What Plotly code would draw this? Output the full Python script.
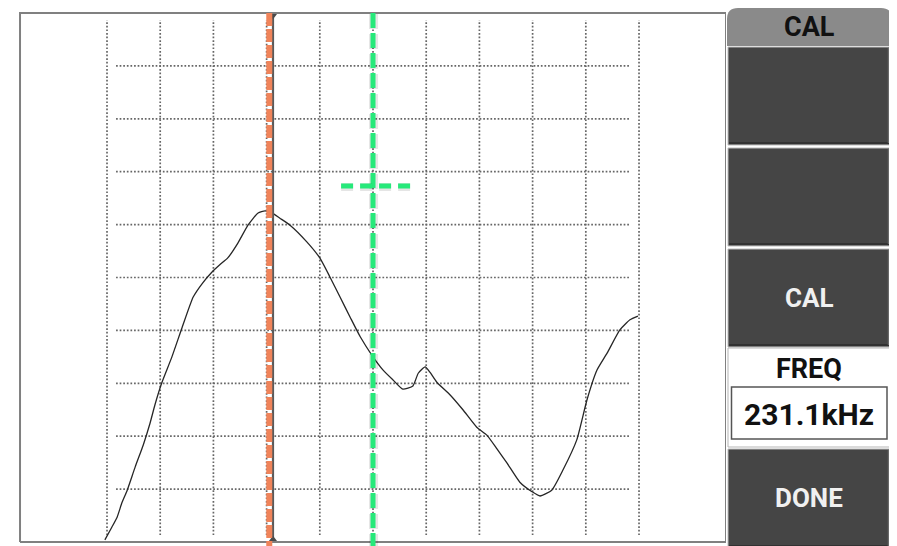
import plotly.graph_objects as go

# ---- data (grid units: 10 x 10 divisions) ----
curve_x = [-0.04, 0.09, 0.19, 0.28, 0.38, 0.53, 0.68, 0.81, 0.90, 1.03, 1.22, 1.41, 1.62, 1.80, 1.97,
           2.12, 2.27, 2.46, 2.65, 2.84, 2.97, 3.10, 3.25, 3.44, 3.76, 4.00, 4.19, 4.38, 4.57, 4.76,
           4.98, 5.19, 5.38, 5.56, 5.75, 5.85, 5.98, 6.07, 6.20, 6.45, 6.69, 6.95, 7.14, 7.33, 7.52,
           7.76, 7.99, 8.14, 8.36, 8.57, 8.83, 9.02, 9.21, 9.40, 9.64, 9.83, 9.98]
curve_y = [0.04, 0.28, 0.47, 0.74, 0.98, 1.42, 1.83, 2.25, 2.59, 3.01, 3.50, 4.05, 4.63, 4.90, 5.10,
           5.24, 5.37, 5.65, 5.99, 6.22, 6.26, 6.22, 6.12, 5.99, 5.67, 5.37, 5.01, 4.63, 4.25, 3.88,
           3.53, 3.25, 3.06, 2.89, 2.95, 3.19, 3.31, 3.21, 3.02, 2.78, 2.50, 2.17, 2.02, 1.76, 1.49,
           1.13, 0.95, 0.87, 0.98, 1.36, 1.93, 2.68, 3.25, 3.57, 4.01, 4.20, 4.27]

grid_x = [0, 1, 2, 3, 4, 5, 6, 7, 8, 9, 10]
grid_y = [1, 2, 3, 4, 5, 6, 7, 8, 9]

orange_cursor_x = 3.05
gray_cursor_x = 3.12
green_cursor_x = 5.0
green_level_y = 6.73
green_level_x = [4.40, 5.73]

menu_title = "CAL"
buttons = ["", "", "CAL", None, "DONE"]
freq_label = "FREQ"
freq_value = "231.1kHz"

# ---- figure geometry (page has an 8px body margin) ----
OFF = 8
W, H = 897 - OFF, 546 - OFF
X_RANGE = [-1.861, 11.635]
Y_RANGE = [-0.0756, 10.0945]
FRAME_X = [-1.635, 11.635]
FRAME_Y = [0.0, 10.0]
FONT = "Roboto"

fig = go.Figure()

# dotted grid
gx, gy = [], []
for x in grid_x:
    gx += [x, x, None]
    gy += [0.13, 9.87, None]
for y in grid_y:
    gx += [0.17, 9.83, None]
    gy += [y, y, None]
fig.add_trace(go.Scatter(x=gx, y=gy, mode="lines", hoverinfo="skip",
                         line=dict(color="#666666", width=1.7, dash="1.7px,1.9px")))

# frame
fig.add_trace(go.Scatter(x=[FRAME_X[0], FRAME_X[1], FRAME_X[1], FRAME_X[0], FRAME_X[0]],
                         y=[FRAME_Y[0], FRAME_Y[0], FRAME_Y[1], FRAME_Y[1], FRAME_Y[0]],
                         mode="lines", hoverinfo="skip", line=dict(color="#808080", width=2)))

# signal curve
fig.add_trace(go.Scatter(x=curve_x, y=curve_y, mode="lines", hoverinfo="skip",
                         line=dict(color="#262626", width=1.3, shape="spline", smoothing=0.5)))

# gray cursor underneath orange
fig.add_trace(go.Scatter(x=[gray_cursor_x, gray_cursor_x], y=[0.02, 9.98], mode="lines",
                         hoverinfo="skip", line=dict(color="#5a5a5a", width=2.2)))
fig.add_trace(go.Scatter(x=[gray_cursor_x, gray_cursor_x], y=[9.95, 0.05], mode="markers",
                         hoverinfo="skip",
                         marker=dict(symbol=["triangle-down", "triangle-up"], size=7, color="#4a4a4a")))
# orange cursor
fig.add_trace(go.Scatter(x=[orange_cursor_x, orange_cursor_x], y=[10.0, -0.08], mode="lines",
                         hoverinfo="skip", line=dict(color="#F0845A", width=6, dash="13px,3px")))

# green cursor (shadow + line)
fig.add_trace(go.Scatter(x=[green_cursor_x + 0.01, green_cursor_x + 0.01], y=[9.98, -0.08], mode="lines",
                         hoverinfo="skip", line=dict(color="rgba(0,0,0,0.10)", width=9, dash="15px,5px")))
fig.add_trace(go.Scatter(x=[green_cursor_x, green_cursor_x], y=[10.0, -0.08], mode="lines",
                         hoverinfo="skip", line=dict(color="#26E97A", width=5, dash="15px,5px")))
fig.add_trace(go.Scatter(x=green_level_x, y=[green_level_y - 0.02, green_level_y - 0.02], mode="lines",
                         hoverinfo="skip", line=dict(color="rgba(0,0,0,0.10)", width=8, dash="12px,7px")))
fig.add_trace(go.Scatter(x=green_level_x, y=[green_level_y, green_level_y], mode="lines",
                         hoverinfo="skip", line=dict(color="#26E97A", width=5, dash="12px,7px")))


# ---- right-hand menu (paper coords from page pixels) ----
def px(x):
    return (x - OFF) / W


def py(y):
    return 1 - (y - OFF) / H


def label(x, y, text, size, color):
    return dict(x=px(x), y=py(y), xref="paper", yref="paper", text=text, showarrow=False,
                xanchor="center", yanchor="middle",
                font=dict(family=FONT, size=size, color=color, weight="bold"))


shapes = []
annotations = []
L, R = 728, 890
CX = 809
rx, ry = 11, 11
tab_top, tab_bot = 8, 46
path = (f"M {px(727)},{py(tab_bot)} L {px(727)},{py(tab_top + ry)} "
        f"Q {px(727)},{py(tab_top)} {px(727 + rx)},{py(tab_top)} "
        f"L {px(892 - rx)},{py(tab_top)} Q {px(892)},{py(tab_top)} {px(892)},{py(tab_top + ry)} "
        f"L {px(892)},{py(tab_bot)} Z")
shapes.append(dict(type="path", xref="paper", yref="paper", path=path,
                   fillcolor="#8a8a8a", line=dict(width=0)))
annotations.append(label(CX, 27, menu_title, 27, "#111111"))

btn_rows = [(47, 145), (148, 246), (249, 347), (348, 447), (449, 548)]
for text, (t, b) in zip(buttons, btn_rows):
    if text is None:
        continue
    shapes.append(dict(type="rect", xref="paper", yref="paper", x0=px(L), x1=px(R), y0=py(b), y1=py(t),
                       fillcolor="#454545", line=dict(color="#bdbdbd", width=1)))
    shapes.append(dict(type="line", xref="paper", yref="paper", x0=px(L + 1), x1=px(R - 1),
                       y0=py(b - 2), y1=py(b - 2), line=dict(color="#2c2c2c", width=1.5)))
    shapes.append(dict(type="line", xref="paper", yref="paper", x0=px(R - 1.5), x1=px(R - 1.5),
                       y0=py(b - 2), y1=py(t + 1), line=dict(color="#6a6a6a", width=1.5)))
    if text:
        annotations.append(label(CX, (t + b) / 2 if t < 400 else 498, text, 26, "#f0f0f0"))

# FREQ box
t, b = btn_rows[3]
shapes.append(dict(type="rect", xref="paper", yref="paper", x0=px(L), x1=px(R), y0=py(b), y1=py(t),
                   fillcolor="#ffffff", line=dict(color="#b5b5b5", width=1)))
shapes.append(dict(type="rect", xref="paper", yref="paper", x0=px(731.5), x1=px(887), y0=py(439), y1=py(387),
                   fillcolor="#ffffff", line=dict(color="#555555", width=1.5)))
annotations.append(label(CX, 369, freq_label, 27, "#111111"))
annotations.append(label(CX, 414, freq_value, 30, "#111111"))

fig.update_layout(
    width=W, height=H,
    margin=dict(l=0, r=0, t=0, b=0),
    paper_bgcolor="white", plot_bgcolor="white",
    showlegend=False,
    xaxis=dict(range=X_RANGE, domain=[0, (726 - OFF) / W], visible=False, fixedrange=True),
    yaxis=dict(range=Y_RANGE, domain=[0, 1], visible=False, fixedrange=True),
    shapes=shapes, annotations=annotations,
)

fig.write_html("out.html")
